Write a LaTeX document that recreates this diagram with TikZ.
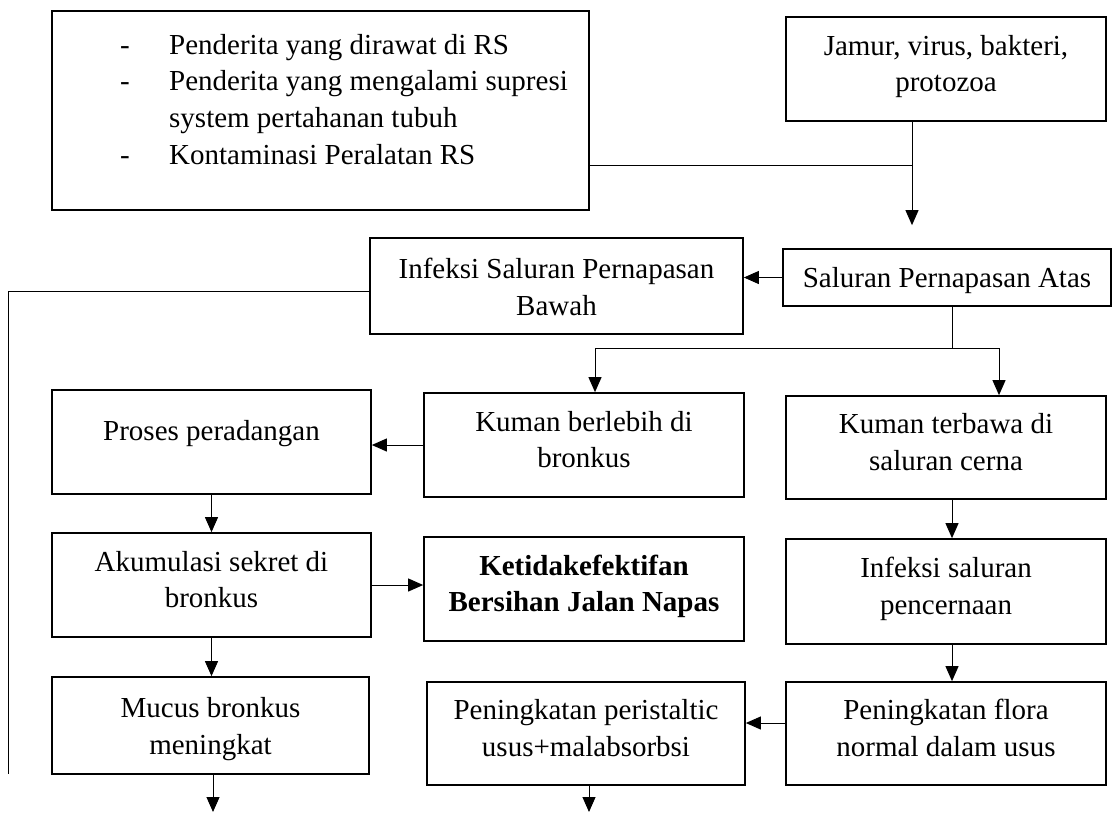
\documentclass[tikz,border=0pt]{standalone}
\usepackage{fontspec}
\setmainfont{Liberation Serif}
\usetikzlibrary{arrows.meta}
\begin{document}
\begin{tikzpicture}[x=1pt,y=-1pt,
  box/.style={draw, line width=1.7pt, inner sep=0pt, align=center,
    font=\fontsize{29}{36.5}\selectfont,
    execute at begin node={\rule{0pt}{25pt}},
    execute at end node={\rule[-11pt]{0pt}{0pt}}},
  highbox/.style={box, execute at end node={\rule[-29pt]{0pt}{0pt}}},
  plainbox/.style={draw, line width=1.7pt, inner sep=0pt, align=center,
    font=\fontsize{29}{36.5}\selectfont},
  conn/.style={line width=1pt},
  arr/.style={line width=1pt, -{Triangle[length=15pt,width=13pt]}}]
\useasboundingbox (0,0) rectangle (1113,814);
% boxes
\node[plainbox, minimum width=537pt, minimum height=199pt] (risk) at (320.5,110.5) {};
\node[anchor=base west, inner sep=0pt, align=left, font=\fontsize{29}{36.8}\selectfont] (risktxt) at (120,54)
  {\begin{tabular}[t]{@{}p{49pt}@{}l@{}}
   -&Penderita yang dirawat di RS\\
   -&Penderita yang mengalami supresi\\
    &system pertahanan tubuh\\
   -&Kontaminasi Peralatan RS
   \end{tabular}};
\node[box, minimum width=320pt, minimum height=104pt] (jamur) at (946,69) {Jamur, virus, bakteri,\\protozoa};
\node[box, minimum width=373pt, minimum height=96pt] (bawah) at (556.5,286) {\rule{0pt}{33pt}Infeksi Saluran Pernapasan\\Bawah};
\node[plainbox, minimum width=328pt, minimum height=57pt, execute at begin node={\rule{0pt}{26pt}}] (atas) at (947,277.5) {Saluran Pernapasan Atas};
\node[box, minimum width=320pt, minimum height=104pt] (kb) at (584,445) {Kuman berlebih di\\bronkus};
\node[box, minimum width=320pt, minimum height=103pt] (kt) at (946,447.5) {Kuman terbawa di\\saluran cerna};
\node[highbox, minimum width=319pt, minimum height=104pt] (proses) at (211.5,442) {Proses peradangan};
\node[box, minimum width=319pt, minimum height=104pt] (akum) at (211.5,585) {Akumulasi sekret di\\bronkus};
\node[box, minimum width=320pt, minimum height=104pt] (ket) at (584,589) {\textbf{Ketidakefektifan}\\\textbf{Bersihan Jalan Napas}};
\node[box, minimum width=320pt, minimum height=105pt] (infs) at (946,591.5) {Infeksi saluran\\pencernaan};
\node[box, minimum width=317pt, minimum height=97pt] (mucus) at (210.5,725.5) {\rule{0pt}{32pt}Mucus bronkus\\meningkat};
\node[box, minimum width=320pt, minimum height=103pt] (flora) at (946,733.5) {Peningkatan flora\\normal dalam usus};
\node[box, minimum width=318pt, minimum height=103pt] (peri) at (586,733.5) {Peningkatan peristaltic\\usus+malabsorbsi};
% helper coordinates
\coordinate (jn) at (912,165);
\coordinate (ll1) at (8.5,291);
\coordinate (ll2) at (8.5,774);
\coordinate (br) at (952,348);
\coordinate (bl) at (595,348);
\coordinate (brr) at (999,348);
\coordinate (md) at (213,812);
\coordinate (fp) at (0,723);
\coordinate (pd) at (589,812);
% connectors
\draw[conn] (risk.east |- jn) -- (jn);
\draw[arr, shorten >=23pt] (jamur.south -| jn) -- (atas.north -| jn);
\draw[arr] (atas.west) -- (bawah.east |- atas.west);
\draw[conn] (bawah.west |- ll1) -- (ll1) -- (ll2);
\draw[conn] (atas.south -| br) -- (br);
\draw[conn] (bl) -- (brr);
\draw[arr] (bl) -- (kb.north -| bl);
\draw[arr] (brr) -- (kt.north -| brr);
\draw[arr] (kb.west) -- (proses.east |- kb.west);
\draw[arr] (proses.south) -- (akum.north);
\draw[arr] (akum.east) -- (ket.west |- akum.east);
\draw[arr] (akum.south) -- (mucus.north -| akum.south);
\draw[arr] (mucus.south -| md) -- (md);
\draw[arr] (kt.south -| br) -- (infs.north -| br);
\draw[arr] (infs.south -| br) -- (flora.north -| br);
\draw[arr] (flora.west |- fp) -- (peri.east |- fp);
\draw[arr] (peri.south -| pd) -- (pd);
\end{tikzpicture}
\end{document}
